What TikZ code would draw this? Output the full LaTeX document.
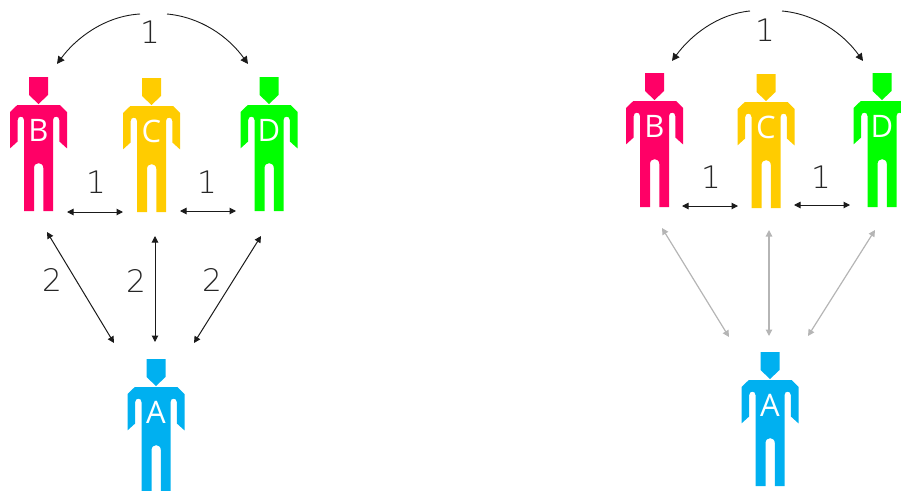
\documentclass[tikz,border=0pt]{standalone}
\usepackage{fontspec}
\setmainfont{Open Sans}
\newfontface\numface{DejaVu Sans ExtraLight}
\usetikzlibrary{arrows.meta}
\definecolor{pB}{HTML}{FF0066}
\definecolor{pC}{HTML}{FFCC00}
\definecolor{pD}{HTML}{00FF00}
\definecolor{pA}{HTML}{00B0F0}
\definecolor{lnk}{HTML}{B5B5B5}
\definecolor{ink}{HTML}{1A1A1A}
\tikzset{
  x=1pt,y=-1pt,
  conn/.style={ink,line width=1pt,{Triangle[length=6.5pt,width=6.5pt]}-{Triangle[length=6.5pt,width=6.5pt]}},
  soft/.style={conn,lnk,line width=1.2pt},
  arcarrow/.style={ink,line width=0.9pt,-{Triangle[length=7.5pt,width=7.5pt]}},
  num/.style={font=\numface\fontsize{31}{31}\selectfont,text=black!85,inner sep=0pt},
  initial/.style={font=\fontsize{31}{31}\selectfont,text=white,inner sep=0pt},
  pics/person/.style n args={2}{code={
    \fill[#1] (-9.5,0) -- (9.5,0) -- (9.5,18) -- (0,27) -- (-9.5,18) -- cycle;
    \fill[#1] (-21.2,28) -- (21.5,28) -- (28.5,35) -- (28.5,71.4) -- (20.8,64.4) -- (20.8,43)
      .. controls (20.8,38.5) and (14.5,38.5) .. (14.5,43) -- (14.5,134) -- (4.8,134) -- (4.8,91)
      .. controls (4.8,84.5) and (-4.5,84.5) .. (-4.5,91) -- (-4.5,134) -- (-14.5,134) -- (-14.5,43)
      .. controls (-14.5,38.5) and (-20.8,38.5) .. (-20.8,43) -- (-20.8,64.4) -- (-28.5,71.4) -- (-28.5,35) -- cycle;
    \node[initial] (-l) at (0,53.5) {#2};
  }}
}
\begin{document}
\begin{tikzpicture}
\useasboundingbox (0,0) rectangle (901,490);
\clip (0,0) rectangle (901,490);
% left group
\pic (lB) at (38.5,77) {person={pB}{B}};
\pic (lC) at (151.5,78) {person={pC}{C}};
\pic (lD) at (269,77) {person={pD}{D}};
\pic (lA) at (156,359) {person={pA}{A}};
\coordinate (a1) at (140,14);
\coordinate (a2) at (57,64);
\coordinate (a3) at (167,14);
\coordinate (a4) at (248,64);
\draw[arcarrow] (a1) .. controls (105,16) and (76,38) .. (a2);
\draw[arcarrow] (a3) .. controls (200,17) and (228,36) .. (a4);
\coordinate (b1) at (67,212); \coordinate (b2) at (123,212);
\coordinate (b3) at (180,211); \coordinate (b4) at (236,211);
\draw[conn] (b1) -- (b2);
\draw[conn] (b3) -- (b4);
\coordinate (c1) at (47,232); \coordinate (c2) at (114,343);
\coordinate (c3) at (155,236); \coordinate (c4) at (155,342);
\coordinate (c5) at (261,236); \coordinate (c6) at (194,343);
\draw[conn] (c1) -- (c2);
\draw[conn] (c3) -- (c4);
\draw[conn] (c5) -- (c6);
\node[num] (n1) at (150,32) {1};
\node[num] (n2) at (96,182) {1};
\node[num] (n3) at (207,182) {1};
\node[num] (n4) at (52,280) {2};
\node[num] (n5) at (136,281) {2};
\node[num] (n6) at (212,280) {2};
% right group
\pic (rB) at (654.5,73) {person={pB}{B}};
\pic (rC) at (766,74) {person={pC}{C}};
\pic (rD) at (882,73) {person={pD}{D}};
\pic (rA) at (770,352) {person={pA}{A}};
\coordinate (d1) at (750,11);
\coordinate (d2) at (672,61);
\coordinate (d3) at (782,11);
\coordinate (d4) at (863,61);
\draw[arcarrow] (d1) .. controls (718,14) and (691,35) .. (d2);
\draw[arcarrow] (d3) .. controls (815,14) and (843,33) .. (d4);
\coordinate (e1) at (682,206); \coordinate (e2) at (738,206);
\coordinate (e3) at (794,205); \coordinate (e4) at (850,205);
\draw[conn] (e1) -- (e2);
\draw[conn] (e3) -- (e4);
\coordinate (f1) at (662,228); \coordinate (f2) at (729,337);
\coordinate (f3) at (769,230); \coordinate (f4) at (769,336);
\coordinate (f5) at (875,230); \coordinate (f6) at (808,336);
\draw[soft] (f1) -- (f2);
\draw[soft] (f3) -- (f4);
\draw[soft] (f5) -- (f6);
\node[num] (n7) at (765,30) {1};
\node[num] (n8) at (711,177) {1};
\node[num] (n9) at (821,177) {1};
\end{tikzpicture}
\end{document}
